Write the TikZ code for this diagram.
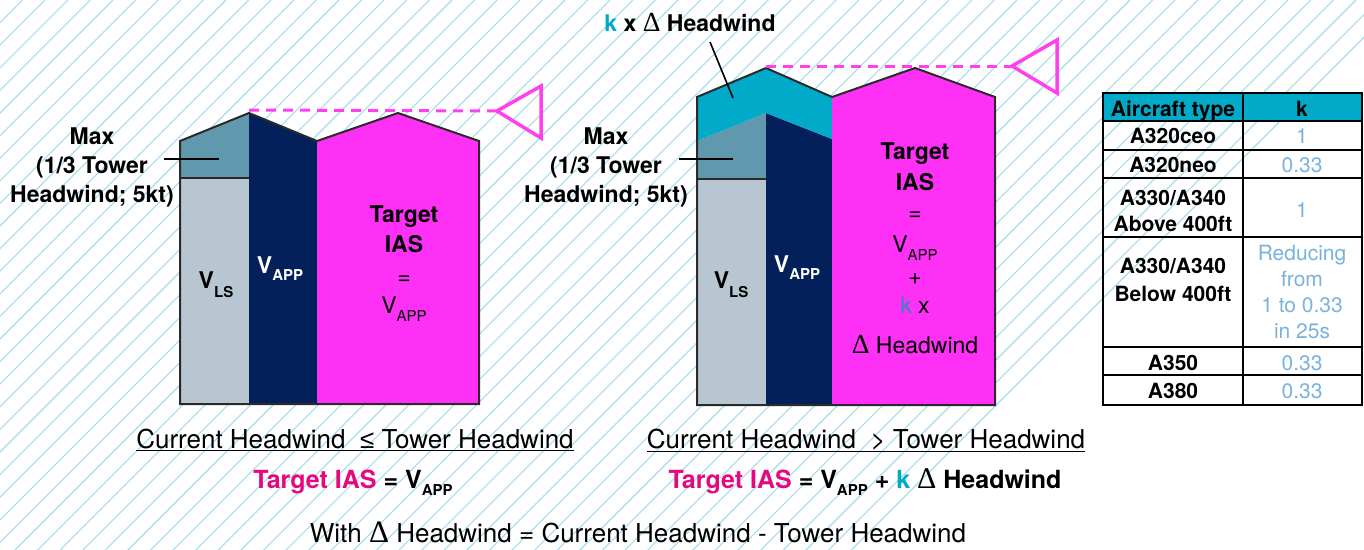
\documentclass[tikz,border=0pt]{standalone}
\usepackage{fontspec}
\setmainfont{TeX Gyre Heros}
\newfontfamily\symfont{Liberation Sans}
\newfontfamily\deltafont{Liberation Serif}[Scale=1.2]
\usetikzlibrary{positioning}

\definecolor{hatchblue}{HTML}{A6DCEB}
\definecolor{vlsgray}{HTML}{B8C6D1}
\definecolor{maxteal}{HTML}{6098AE}
\definecolor{navy}{HTML}{03205A}
\definecolor{boxpink}{HTML}{FF30F5}
\definecolor{markpink}{HTML}{FF40F0}
\definecolor{kcyan}{HTML}{00AAC8}
\definecolor{kblue}{HTML}{2D86BF}
\definecolor{tgtpink}{HTML}{E5097F}
\definecolor{tblblue}{HTML}{78B3DD}
\definecolor{edgegray}{HTML}{2A2A2A}

% V with a lowered index: text, index size, drop
\newcommand{\Vsb}[3]{V\raisebox{-#3pt}{\fontsize{#2}{#2}\selectfont #1}}
\newcommand{\dHW}{{\deltafont\mdseries Δ}}

\begin{document}
\begin{tikzpicture}[x=1pt,y=-1pt,
    outline/.style={draw=edgegray,line width=2pt,line join=miter},
    hatch/.style={draw=hatchblue,line width=1.1pt},
    leader/.style={draw=black,line width=1.6pt},
    wind/.style={draw=markpink,line width=3pt,dash pattern=on 10pt off 7pt},
    cone/.style={draw=markpink,line width=3.5pt,line join=miter},
    maxlbl/.style={font=\fontsize{23}{29}\selectfont\bfseries,align=center,inner sep=0pt},
    bartxt/.style={font=\fontsize{23}{23}\selectfont\bfseries,anchor=base,inner sep=0pt},
    tgttxt/.style={font=\fontsize{23}{23}\selectfont\bfseries,anchor=base,inner sep=0pt},
    eqtxt/.style={font=\fontsize{23}{23}\selectfont,anchor=base,inner sep=0pt},
    tbl/.style={draw=black,line width=1.5pt},
    typetxt/.style={font=\fontsize{21}{26}\selectfont\bfseries,align=center,inner sep=0pt},
    ktxt/.style={font=\fontsize{21}{25.7}\selectfont,text=tblblue,align=center,inner sep=0pt},
    condtxt/.style={font=\fontsize{26}{26}\selectfont,anchor=base,inner sep=0pt},
    formtxt/.style={font=\fontsize{25}{25}\selectfont\bfseries,anchor=base,inner sep=0pt}]
\useasboundingbox (0,0) rectangle (1364,549);

% background hatching
\begin{scope}
  \clip (0,0) rectangle (1364,549);
  \foreach \i in {-25,...,62}
    \draw[hatch] (\i*22.6,0) -- ++(-560,560);
\end{scope}

% ---- left: current headwind <= tower headwind ----
\fill[vlsgray] (180,178) rectangle (249,404);
\fill[maxteal] (180,141) -- (249,113) -- (249,178) -- (180,178) -- cycle;
\fill[navy] (249,113) -- (317,141) -- (317,404) -- (249,404) -- cycle;
\fill[boxpink] (317,141) -- (398,113) -- (479,141) -- (479,404) -- (317,404) -- cycle;
\draw[outline] (180,404) -- (180,141) -- (249,113) -- (317,141) -- (398,113)
  -- (479,141) -- (479,404) -- cycle;
\draw[outline] (180,178) -- (249,178);

\coordinate (Lpeak) at (249,110);
\coordinate (Ltip) at (497,111);
\draw[wind] (Lpeak) -- (Ltip);
\draw[cone] (Ltip) -- (541,86) -- (541,138) -- cycle;

\node[maxlbl] (Lmax) at (92,167) {Max\\(1/3 Tower\\Headwind; 5kt)};
\coordinate (LmaxA) at (164,159);
\coordinate (LmaxB) at (219,159);
\draw[leader] (LmaxA) -- (LmaxB);

\node[bartxt] (Lvls) at (216,288) {\Vsb{LS}{15}{9}};
\node[bartxt,text=white] (Lvapp) at (280,273) {\Vsb{APP}{15}{7}};

\node[tgttxt] (Ltgt) at (404,222) {Target};
\node[tgttxt] (Lias) at (404,252) {IAS};
\node[eqtxt] (Leq) at (404,284) {=};
\node[eqtxt] (Lval) at (404,313) {\Vsb{APP}{15}{8}};

% ---- right: current headwind > tower headwind ----
\fill[vlsgray] (697,179) rectangle (766,405);
\fill[maxteal] (697,141) -- (766,113) -- (766,179) -- (697,179) -- cycle;
\fill[navy] (766,113) -- (832,139) -- (832,405) -- (766,405) -- cycle;
\fill[kcyan] (697,97) -- (766,68) -- (832,97) -- (832,139) -- (766,113) -- (697,141) -- cycle;
\fill[boxpink] (832,97) -- (915,68) -- (995,97) -- (995,405) -- (832,405) -- cycle;
\draw[outline] (697,405) -- (697,97) -- (766,68) -- (832,97) -- (915,68)
  -- (995,97) -- (995,405) -- cycle;
\draw[outline] (697,179) -- (766,179);

\coordinate (Rpeak) at (766,66);
\coordinate (Rtip) at (1012,66);
\draw[wind] (Rpeak) -- (Rtip);
\draw[cone] (Rtip) -- (1057,40) -- (1057,93) -- cycle;

\node[bartxt] (Rkhw) at (690,31) {\textcolor{kcyan}{k} x \dHW\ Headwind};
\coordinate (RkA) at (710,42);
\coordinate (RkB) at (733,98);
\draw[leader] (RkA) -- (RkB);

\node[maxlbl] (Rmax) at (606,167) {Max\\(1/3 Tower\\Headwind; 5kt)};
\coordinate (RmaxA) at (679,159);
\coordinate (RmaxB) at (733,159);
\draw[leader] (RmaxA) -- (RmaxB);

\node[bartxt] (Rvls) at (731,288) {\Vsb{LS}{15}{9}};
\node[bartxt,text=white] (Rvapp) at (797,272) {\Vsb{APP}{15}{7}};

\node[tgttxt] (Rtgt) at (915,159) {Target};
\node[tgttxt] (Rias) at (915,190) {IAS};
\node[eqtxt] (Req) at (915,220) {=};
\node[eqtxt] (Rval) at (915,252) {\Vsb{APP}{15}{8}};
\node[eqtxt] (Rplus) at (915,284) {+};
\node[eqtxt] (Rk) at (915,313) {\textcolor{kblue}{k} x};
\node[eqtxt] (Rdhw) at (915,353) {\dHW\ Headwind};

% ---- k table ----
\fill[kcyan] (1103,93) rectangle (1362,121);
\draw[tbl] (1103,93) rectangle (1362,405);
\draw[tbl] (1243,93) -- (1243,405);
\foreach \y in {121,150,178,237,347,375}
  \draw[tbl] (1103,\y) -- (1362,\y);

\node[typetxt,anchor=base] (hType) at (1173,116) {Aircraft type};
\node[typetxt,anchor=base] (hK) at (1302,116) {k};
\node[typetxt,anchor=base] (t1) at (1173,143) {A320ceo};
\node[ktxt,anchor=base] (k1) at (1302,143) {1};
\node[typetxt,anchor=base] (t2) at (1173,172) {A320neo};
\node[ktxt,anchor=base] (k2) at (1302,172) {0.33};
\node[typetxt] (t3) at (1173,211) {A330/A340\\Above 400ft};
\node[ktxt,anchor=base] (k3) at (1302,217) {1};
\node[typetxt] (t4) at (1173,280) {A330/A340\\[2pt]Below 400ft};
\node[ktxt] (k4) at (1302,292) {Reducing\\from\\1 to 0.33\\in 25s};
\node[typetxt,anchor=base] (t5) at (1173,370) {A350};
\node[ktxt,anchor=base] (k5) at (1302,370) {0.33};
\node[typetxt,anchor=base] (t6) at (1173,398) {A380};
\node[ktxt,anchor=base] (k6) at (1302,398) {0.33};

% ---- conditions and formulas ----
\node[condtxt] (Lcond) at (355,448) {\underline{Current Headwind\ \ {\symfont ≤} Tower Headwind}};
\node[condtxt] (Rcond) at (866,448) {\underline{Current Headwind\ \ > Tower Headwind}};
\node[formtxt] (Lform) at (353,488) {\textcolor{tgtpink}{Target IAS} = \Vsb{APP}{15}{7}};
\node[formtxt] (Rform) at (865,488) {\textcolor{tgtpink}{Target IAS} = \Vsb{APP}{15}{7} + \textcolor{kcyan}{k} \dHW\ Headwind};
\node[condtxt] (dnote) at (638,542) {With \dHW\ Headwind = Current Headwind - Tower Headwind};
\end{tikzpicture}
\end{document}
